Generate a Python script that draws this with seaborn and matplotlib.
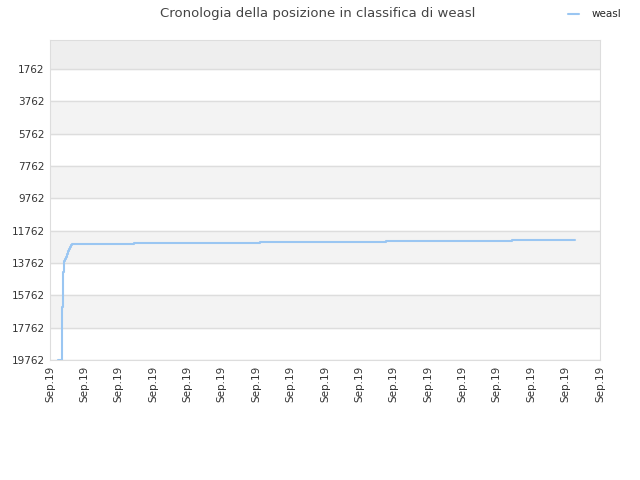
import numpy as np
import pandas as pd
import matplotlib
matplotlib.use('Agg')
import matplotlib.pyplot as plt
import matplotlib.dates as mdates
import seaborn as sns

sns.set_style('white')
plt.rcParams['font.family'] = ['DejaVu Sans']

# minutes after start, and rank at that moment
minutes = [14, 21, 23, 25, 26, 28, 29, 31, 33, 35, 37, 38, 146, 367, 586, 806, 916]
ranks = [19762, 16485, 14320, 13640, 13515, 13392, 13206, 13020, 12897, 12773,
         12650, 12588, 12526, 12464, 12402, 12340, 12340]
y_ticks = [1762, 3762, 5762, 7762, 9762, 11762, 13762, 15762, 17762, 19762]

start = pd.Timestamp('2019-09-12 00:00')
df = pd.DataFrame({'time': start + pd.to_timedelta(minutes, unit='min'),
                   'rank': ranks})

fig = plt.figure(figsize=(6.4, 4.8), dpi=100)
ax = fig.add_axes([50/640, 120/480, 550/640, 320/480])

# alternating bands
top = -32
edges = [top] + y_ticks
for i in range(len(edges) - 1):
    if i == 0:
        ax.axhspan(edges[i], edges[i+1], color='#eeeeee', zorder=0)
    elif i % 2 == 0:
        ax.axhspan(edges[i], edges[i+1], color='#f3f3f3', zorder=0)

sns.lineplot(data=df, x='time', y='rank', ax=ax, color='#9ac6f2', linewidth=1.5,
             drawstyle='steps-post', label='weasl', legend=False)

ax.set_ylim(19762, top)
ax.set_yticks(y_ticks)
ax.set_xlim(start, start + pd.Timedelta(hours=16))
ax.set_xticks([start + pd.Timedelta(hours=h) for h in range(17)])
ax.xaxis.set_major_formatter(mdates.DateFormatter('%b.%y'))
plt.setp(ax.get_xticklabels(), rotation=90)
ax.tick_params(axis='both', labelsize=7.5, colors='#333333', length=0, pad=4)
ax.grid(axis='y', color='#dddddd', linewidth=1)
ax.set_axisbelow(True)
for s in ax.spines.values():
    s.set_color('#dddddd')
ax.set_xlabel('')
ax.set_ylabel('')

fig.suptitle('Cronologia della posizione in classifica di weasl', x=0.497, y=0.985,
             fontsize=9.5, color='#444444')
handles, labels = ax.get_legend_handles_labels()
fig.legend(handles, labels, loc='upper right', bbox_to_anchor=(0.985, 1.0),
           frameon=False, fontsize=7.5, handlelength=1.0, handletextpad=1.2)

fig.savefig('out.png', dpi=100)
